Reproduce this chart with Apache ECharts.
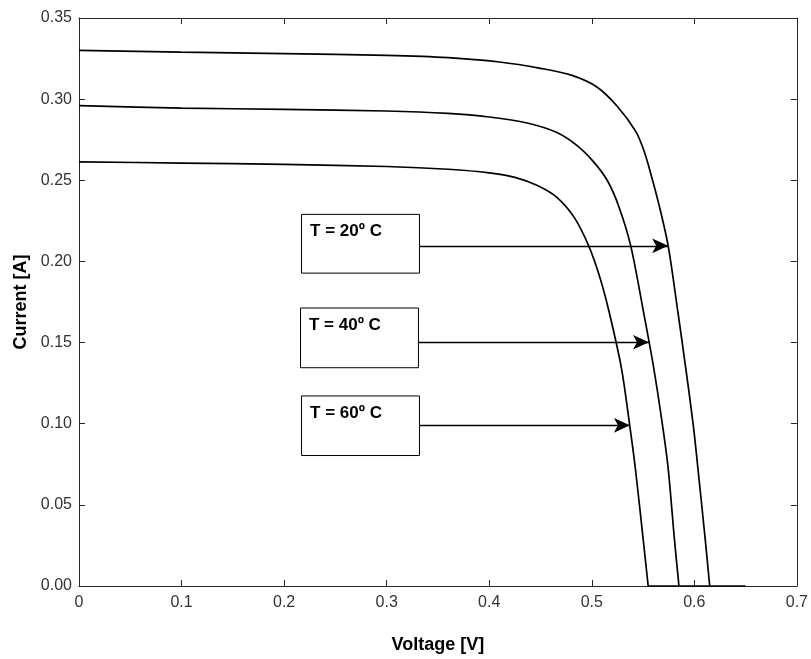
<!DOCTYPE html>
<html>
<head>
<meta charset="utf-8">
<script src="https://cdn.jsdelivr.net/npm/echarts@6/dist/echarts.min.js"></script>
<style>
html,body{margin:0;padding:0;background:#fff;}
#chart{width:811px;height:659px;}
</style>
</head>
<body>
<div id="chart"></div>
<script>
// Data: [Voltage (V), Current (A)]
const curveT20 = [
  [0, 0.3300], [0.100, 0.3290], [0.200, 0.3281], [0.300, 0.3270], [0.360, 0.3256],
  [0.410, 0.3229], [0.450, 0.3190], [0.480, 0.3148], [0.505, 0.3075], [0.525, 0.2955],
  [0.543, 0.2800], [0.551, 0.2680], [0.558, 0.2530], [0.5655, 0.2350], [0.5745, 0.2096],
  [0.584, 0.1687], [0.5917, 0.1340], [0.599, 0.0990], [0.6035, 0.0725], [0.6105, 0.0295], [0.615, 0]
];
const curveT40 = [
  [0, 0.2960], [0.100, 0.2945], [0.200, 0.2937], [0.300, 0.2927], [0.360, 0.2912],
  [0.400, 0.2890], [0.437, 0.2853], [0.466, 0.2794], [0.486, 0.2712], [0.502, 0.2612],
  [0.515, 0.2500], [0.526, 0.2345], [0.538, 0.2096], [0.5505, 0.1687], [0.5605, 0.1340],
  [0.569, 0.0990], [0.5745, 0.0725], [0.5805, 0.0295], [0.585, 0]
];
const curveT60 = [
  [0, 0.2614], [0.100, 0.2606], [0.200, 0.2598], [0.300, 0.2585], [0.360, 0.2568],
  [0.400, 0.2546], [0.425, 0.2518], [0.447, 0.2468], [0.466, 0.2395], [0.483, 0.2270],
  [0.497, 0.2096], [0.508, 0.1900], [0.517, 0.1687], [0.529, 0.1340], [0.537, 0.0990],
  [0.5425, 0.0725], [0.550, 0.0295], [0.555, 0]
];
// Zero-current segment beyond open-circuit voltage
const zeroCurrent = [[0.555, 0], [0.650, 0]];

const labels = ['T = 20º C', 'T = 40º C', 'T = 60º C'];
const xTicks = [0, 0.1, 0.2, 0.3, 0.4, 0.5, 0.6, 0.7];
const yTicks = [0, 0.05, 0.10, 0.15, 0.20, 0.25, 0.30, 0.35];

// Annotation geometry (data coordinates)
const boxes = [
  { x0: 0.217, x1: 0.332, y0: 0.1928, y1: 0.2290 },
  { x0: 0.216, x1: 0.331, y0: 0.1345, y1: 0.1713 },
  { x0: 0.217, x1: 0.332, y0: 0.0804, y1: 0.1171 }
];
const arrows = [
  { y: 0.2096, xEnd: 0.5745 },
  { y: 0.1502, xEnd: 0.5558 },
  { y: 0.0990, xEnd: 0.5372 }
];

const chart = echarts.init(document.getElementById('chart'), null, { renderer: 'canvas' });
const FONT = 'Liberation Sans, Arial, sans-serif';
const axisCol = '#262626';

const lineSeries = (data, smooth) => ({
  type: 'line', data: data, showSymbol: false, symbol: 'none',
  smooth: smooth,
  lineStyle: { color: '#000', width: 1.7 },
  emphasis: { disabled: true }, silent: true, z: 3
});

const s1 = lineSeries(curveT20, 0.3);
s1.markArea = {
  silent: true,
  itemStyle: { color: 'rgba(255,255,255,0)', borderColor: '#000', borderWidth: 1 },
  label: {
    show: true, position: 'insideTopLeft', distance: 9,
    color: '#000', fontFamily: FONT, fontWeight: 'bold', fontSize: 17
  },
  data: boxes.map((b, i) => [
    { name: labels[i], coord: [b.x0, b.y1] },
    { coord: [b.x1, b.y0] }
  ])
};
s1.markLine = {
  silent: true, animation: false,
  symbol: ['none', 'arrow'], symbolSize: [11, 16],
  lineStyle: { color: '#000', width: 1.3, type: 'solid' },
  label: { show: false },
  data: arrows.map((a, i) => [
    { coord: [boxes[i].x1, a.y] },
    { coord: [a.xEnd, a.y] }
  ])
};

chart.setOption({
  animation: false,
  backgroundColor: '#fff',
  grid: { left: 79, right: 10, top: 18, bottom: 71, containLabel: false },
  xAxis: [{
    type: 'value', min: 0, max: 0.7, interval: 0.1,
    name: 'Voltage [V]', nameLocation: 'middle', nameGap: 50,
    nameTextStyle: { fontFamily: FONT, fontWeight: 'bold', fontSize: 18, color: '#000' },
    axisLine: { show: true, onZero: false, lineStyle: { color: axisCol, width: 1 } },
    axisTick: { show: true, inside: true, length: 6, lineStyle: { color: axisCol } },
    axisLabel: {
      margin: 9, fontFamily: FONT, fontSize: 16, color: '#333',
      formatter: v => (v === 0 ? '0' : v.toFixed(1))
    },
    splitLine: { show: false }
  }, {
    type: 'value', position: 'top', min: 0, max: 0.7, interval: 0.1,
    axisLine: { show: true, onZero: false, lineStyle: { color: axisCol, width: 1 } },
    axisTick: { show: true, inside: true, length: 6, lineStyle: { color: axisCol } },
    axisLabel: { show: false }, splitLine: { show: false }
  }],
  yAxis: [{
    type: 'value', min: 0, max: 0.35, interval: 0.05,
    name: 'Current [A]', nameLocation: 'middle', nameGap: 48, nameRotate: 90,
    nameTextStyle: { fontFamily: FONT, fontWeight: 'bold', fontSize: 18, color: '#000' },
    axisLine: { show: true, onZero: false, lineStyle: { color: axisCol, width: 1 } },
    axisTick: { show: true, inside: true, length: 6, lineStyle: { color: axisCol } },
    axisLabel: {
      margin: 7, fontFamily: FONT, fontSize: 16, color: '#333',
      formatter: v => v.toFixed(2)
    },
    splitLine: { show: false }
  }, {
    type: 'value', position: 'right', min: 0, max: 0.35, interval: 0.05,
    axisLine: { show: true, onZero: false, lineStyle: { color: axisCol, width: 1 } },
    axisTick: { show: true, inside: true, length: 6, lineStyle: { color: axisCol } },
    axisLabel: { show: false }, splitLine: { show: false }
  }],
  series: [s1, lineSeries(curveT40, 0.3), lineSeries(curveT60, 0.3), lineSeries(zeroCurrent, false)]
});
</script>
</body>
</html>
